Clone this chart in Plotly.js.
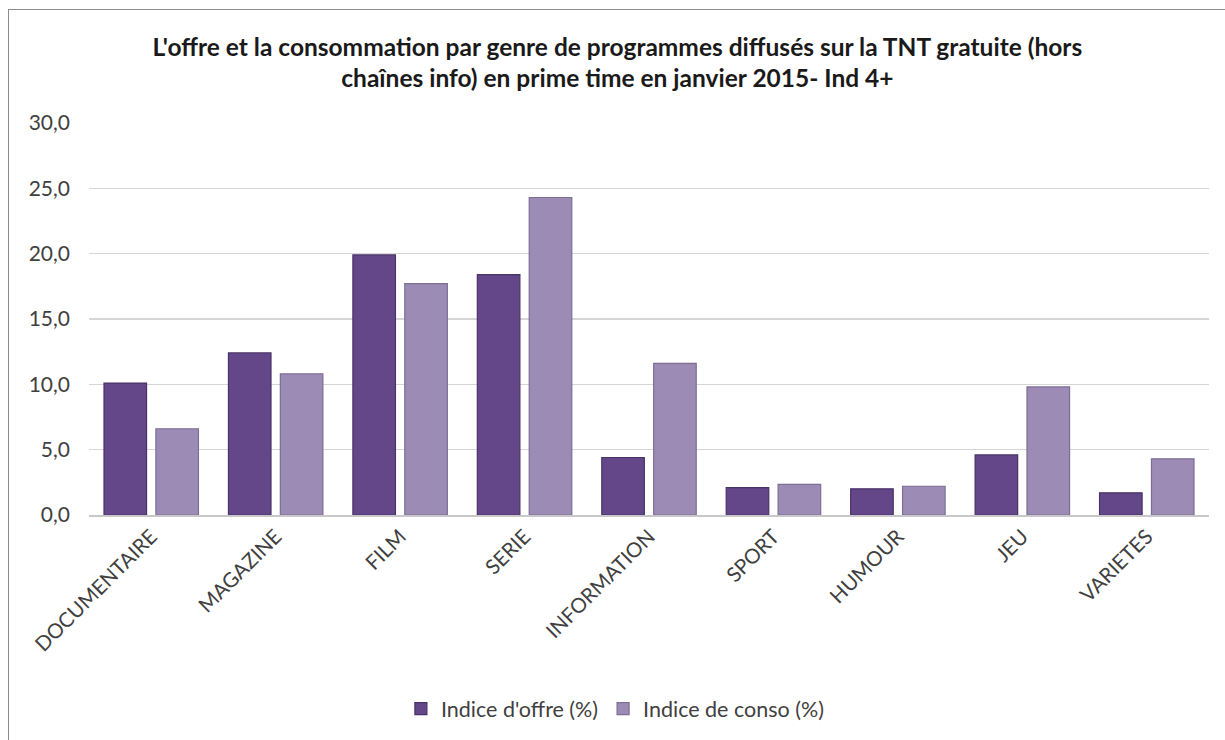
<!DOCTYPE html>
<html>
<head>
<meta charset="utf-8">
<script src="https://cdn.plot.ly/plotly-3.0.1.min.js"></script>
<style>
  html, body { margin: 0; padding: 0; background: #ffffff; }
  #wrap { position: relative; width: 1225px; height: 740px; overflow: hidden; }
  #chart { width: 1225px; height: 740px; }
  #frame { position: absolute; left: 8px; top: 9px; width: 1400px; height: 900px;
           border: 1.5px solid #8c8c8c; pointer-events: none; box-sizing: border-box; }
</style>
</head>
<body>
<div id="wrap">
  <div id="chart"></div>
  <div id="frame"></div>
</div>
<script>
const categories = ["DOCUMENTAIRE", "MAGAZINE", "FILM", "SERIE", "INFORMATION", "SPORT", "HUMOUR", "JEU", "VARIETES"];
const offreValues = [10.1, 12.4, 19.9, 18.4, 4.4, 2.1, 2.0, 4.6, 1.7];
const consoValues = [6.6, 10.8, 17.7, 24.3, 11.6, 2.35, 2.2, 9.8, 4.3];
const seriesNames = ["Indice d'offre (%)", "Indice de conso (%)"];
const yTicks = [0, 5, 10, 15, 20, 25, 30];
const titleText = "L'offre et la consommation par genre de programmes diffusés sur la TNT gratuite (hors<br>chaînes info) en prime time en janvier 2015- Ind 4+";

const fontFam = "Lato, 'Open Sans', sans-serif";

const traces = [
  {
    type: "bar", name: seriesNames[0], x: categories, y: offreValues,
    marker: { color: "#634789", line: { color: "#4a3268", width: 1.2 } },
    hoverinfo: "x+y"
  },
  {
    type: "bar", name: seriesNames[1], x: categories, y: consoValues,
    marker: { color: "#9c8cb5", line: { color: "#7c6e94", width: 1.2 } },
    hoverinfo: "x+y"
  }
];

const layout = {
  width: 1225, height: 740,
  paper_bgcolor: "rgba(0,0,0,0)", plot_bgcolor: "rgba(0,0,0,0)",
  margin: { l: 89, r: 16, t: 123, b: 224 },
  separators: ", ",
  barmode: "group", bargap: 0.166, bargroupgap: 0.18,
  font: { family: fontFam, color: "#595959" },
  title: {
    text: titleText,
    font: { family: fontFam, size: 24.5, color: "#1a1a1a", weight: "bold" },
    x: 0.504, xref: "container", xanchor: "center",
    y: 0.925, yref: "container", yanchor: "middle"
  },
  xaxis: {
    type: "category", tickangle: -45,
    tickfont: { family: fontFam, size: 20.5, color: "#404040" },
    showgrid: false, showline: true, linecolor: "#c8c8c8", linewidth: 1.5,
    ticks: "", zeroline: false, fixedrange: true
  },
  yaxis: {
    range: [0, 30], tickvals: yTicks, tickformat: ".1f",
    tickfont: { family: fontFam, size: 21, color: "#404040" },
    showgrid: true, gridcolor: "#d6d6d6", gridwidth: 1.6,
    zeroline: false, showline: false, ticks: "", ticklabelstandoff: 18, fixedrange: true
  },
  legend: {
    orientation: "h", x: 0.47, xanchor: "center", y: -0.49, yanchor: "middle",
    font: { family: fontFam, size: 21.5, color: "#404040" },
    itemwidth: 30, traceorder: "normal"
  },
  showlegend: true
};

Plotly.newPlot("chart", traces, layout, { displayModeBar: false, staticPlot: true });
</script>
</body>
</html>
